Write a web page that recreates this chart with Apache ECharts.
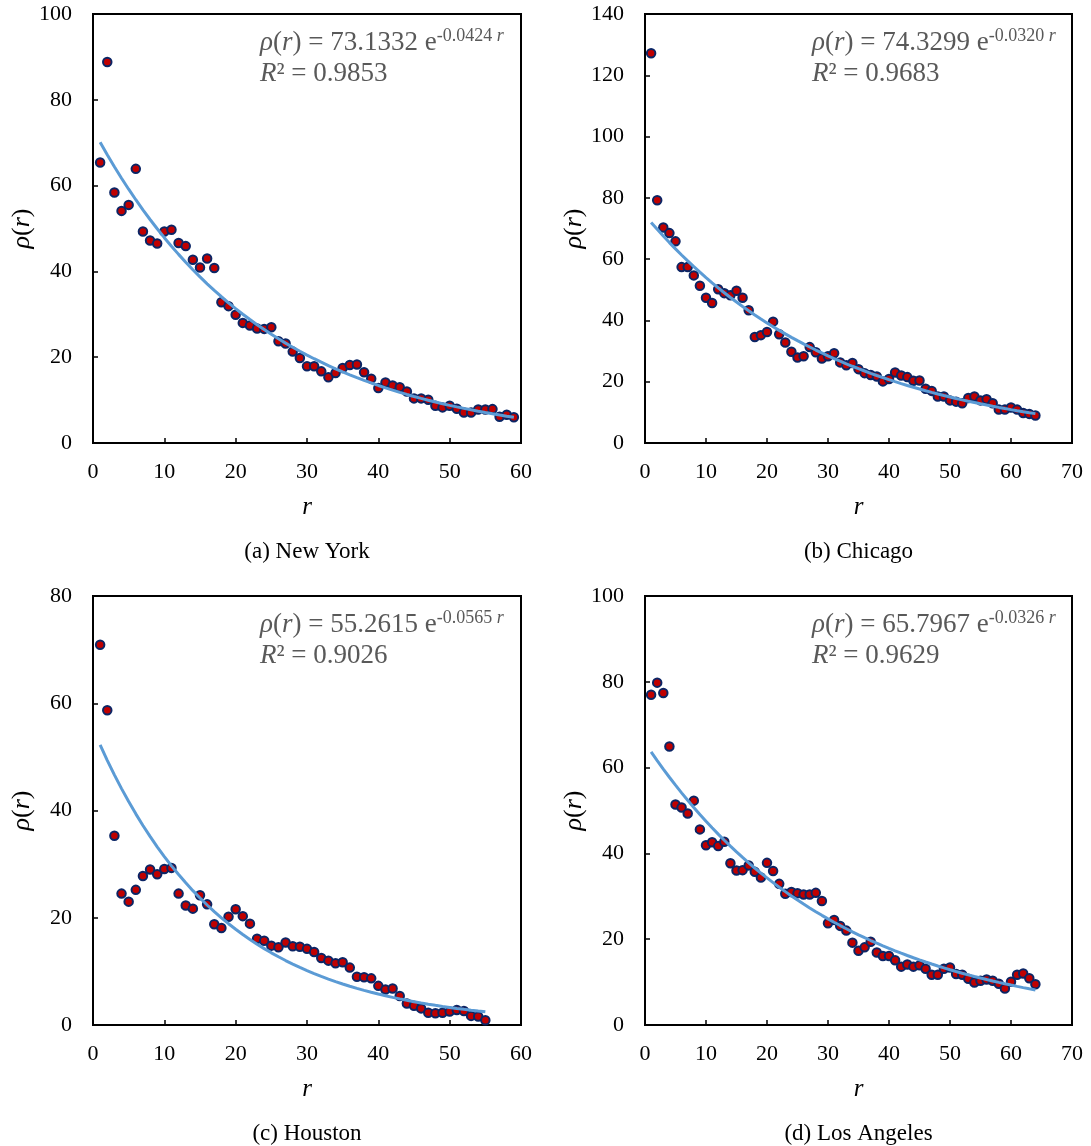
<!DOCTYPE html>
<html>
<head>
<meta charset="utf-8">
<script src="https://cdn.jsdelivr.net/npm/echarts@6/dist/echarts.min.js"></script>
<style>
  html, body { margin: 0; padding: 0; background: #fff; }
  #chart { width: 1091px; height: 1146px; }
</style>
</head>
<body>
<div id="chart"></div>
<script>
// panel captions
const captions = ['(a) New York', '(b) Chicago', '(c) Houston', '(d) Los Angeles']

// rho(r), r = 1, 2, 3 ...
const nyRho = [65.4, 88.8, 58.4, 54.1, 55.5, 63.9, 49.3, 47.2, 46.5, 49.3,
  49.7, 46.6, 45.9, 42.7, 40.9, 43.0, 40.8, 32.8, 31.9, 29.9,
  28.0, 27.4, 26.7, 26.6, 27.0, 23.7, 23.2, 21.3, 19.8, 17.9,
  17.9, 16.7, 15.3, 16.3, 17.5, 18.2, 18.3, 16.5, 15.0, 12.8,
  14.1, 13.4, 13.0, 12.0, 10.4, 10.4, 10.1, 8.7, 8.3, 8.7,
  8.0, 7.1, 7.1, 7.8, 7.8, 7.9, 6.1, 6.6, 6.0]
const chiRho = [127.2, 79.2, 70.3, 68.5, 65.8, 57.4, 57.4, 54.7, 51.3, 47.4,
  45.7, 50.2, 48.9, 48.2, 49.7, 47.4, 43.3, 34.6, 35.2, 36.2,
  39.6, 35.5, 32.8, 29.8, 27.9, 28.3, 31.3, 29.6, 27.6, 28.3,
  29.3, 26.3, 25.4, 26.1, 24.1, 22.8, 22.2, 21.7, 20.1, 20.9,
  23.0, 22.0, 21.5, 20.3, 20.4, 17.7, 17.0, 15.2, 15.2, 13.9,
  13.5, 13.0, 14.7, 15.2, 13.9, 14.3, 13.0, 10.9, 10.9, 11.6,
  10.9, 9.8, 9.5, 9.0]
const houRho = [70.9, 58.7, 35.3, 24.5, 23.0, 25.2, 27.8, 29.0, 28.1, 29.1,
  29.3, 24.5, 22.3, 21.7, 24.2, 22.5, 18.8, 18.1, 20.2, 21.6,
  20.3, 18.9, 16.1, 15.7, 14.8, 14.5, 15.4, 14.7, 14.6, 14.2,
  13.6, 12.5, 12.0, 11.5, 11.7, 10.7, 9.0, 8.9, 8.7, 7.3,
  6.6, 6.8, 5.4, 4.0, 3.6, 3.1, 2.3, 2.2, 2.3, 2.5,
  2.8, 2.6, 1.7, 1.6, 0.9]
const laRho = [77.0, 79.8, 77.4, 64.9, 51.4, 50.7, 49.3, 52.3, 45.6, 41.9,
  42.6, 41.7, 42.7, 37.7, 36.0, 36.1, 37.2, 35.7, 34.4, 37.8,
  35.9, 32.9, 30.6, 31.0, 30.7, 30.4, 30.4, 30.8, 28.9, 23.7,
  24.5, 23.1, 22.0, 19.2, 17.3, 18.1, 19.4, 16.9, 16.1, 16.1,
  15.1, 13.6, 14.1, 13.6, 13.9, 13.1, 11.7, 11.7, 13.1, 13.4,
  11.9, 11.7, 10.8, 9.9, 10.3, 10.6, 10.3, 9.6, 8.5, 10.1,
  11.7, 12.0, 10.9, 9.5]

// trendline coefficients as printed on the chart: rho = A e^(-b r)
const fitA = [73.1332, 74.3299, 55.2615, 65.7967]
const fitB = [0.0424, 0.0320, 0.0565, 0.0326]
const r2 = ['0.9853', '0.9683', '0.9026', '0.9629']

// axis ranges
const xMax = [60, 70, 60, 70]
const yMax = [100, 140, 80, 100]

const allRho = [nyRho, chiRho, houRho, laRho]

const font = 'Liberation Serif'
const boxes = [
  { left: 93, top: 14, width: 428, height: 429 },
  { left: 645, top: 14, width: 427, height: 429 },
  { left: 93, top: 596, width: 428, height: 429 },
  { left: 645, top: 596, width: 427, height: 429 }
]

const grid = []
const xAxis = []
const yAxis = []
const series = []
const graphic = []

boxes.forEach((b, i) => {
  grid.push({
    left: b.left,
    top: b.top,
    width: b.width,
    height: b.height,
    show: true,
    borderColor: '#000',
    borderWidth: 2,
    containLabel: false
  })
  xAxis.push({
    type: 'value',
    gridIndex: i,
    min: 0,
    max: xMax[i],
    interval: 10,
    name: 'r',
    nameLocation: 'middle',
    nameGap: 52,
    nameTextStyle: { fontFamily: font, fontSize: 25, fontStyle: 'italic', color: '#000' },
    axisLine: { lineStyle: { color: '#000', width: 2 } },
    axisTick: { inside: true, length: 5, lineStyle: { color: '#000', width: 1.5 } },
    axisLabel: { color: '#000', fontFamily: font, fontSize: 22, margin: 18 },
    splitLine: { show: false }
  })
  yAxis.push({
    type: 'value',
    gridIndex: i,
    min: 0,
    max: yMax[i],
    interval: 20,
    name: '{i|ρ}({i|r})',
    nameLocation: 'middle',
    nameRotate: 90,
    nameGap: 58,
    nameTextStyle: {
      fontFamily: font,
      fontSize: 26,
      color: '#000',
      rich: { i: { fontFamily: font, fontSize: 26, fontStyle: 'italic', color: '#000' } }
    },
    axisLine: { lineStyle: { color: '#000', width: 2 } },
    axisTick: { inside: true, length: 5, lineStyle: { color: '#000', width: 1.5 } },
    axisLabel: { color: '#000', fontFamily: font, fontSize: 22, margin: 21 },
    splitLine: { show: false }
  })

  const rho = allRho[i]
  series.push({
    type: 'scatter',
    xAxisIndex: i,
    yAxisIndex: i,
    data: rho.map((v, k) => [k + 1, v]),
    symbol: 'circle',
    symbolSize: 8.5,
    itemStyle: { color: '#C00000', borderColor: '#0B2565', borderWidth: 2, opacity: 1 },
    z: 2
  })
  series.push({
    type: 'line',
    xAxisIndex: i,
    yAxisIndex: i,
    data: rho.map((v, k) => [k + 1, fitA[i] * Math.exp(-fitB[i] * (k + 1))]),
    showSymbol: false,
    smooth: false,
    silent: true,
    lineStyle: { color: '#5B9BD5', width: 3 },
    z: 3
  })

  // equation box
  graphic.push({
    type: 'text',
    left: b.left + 167,
    top: b.top + 13,
    z: 10,
    style: {
      text: '{i|ρ}({i|r}) = ' + fitA[i].toFixed(4) + ' e{sup|-' + fitB[i].toFixed(4) + ' }{supi|r}\n{i|R}² = ' + r2[i],
      fontFamily: font,
      fontSize: 27,
      lineHeight: 31,
      fill: '#595959',
      rich: {
        i: { fontFamily: font, fontSize: 27, fontStyle: 'italic', lineHeight: 31, fill: '#595959' },
        sup: { fontFamily: font, fontSize: 18, lineHeight: 18, verticalAlign: 'top', fill: '#595959' },
        supi: { fontFamily: font, fontSize: 18, fontStyle: 'italic', lineHeight: 18, verticalAlign: 'top', fill: '#595959' }
      }
    }
  })
  // caption under the panel
  graphic.push({
    type: 'text',
    x: b.left + b.width / 2,
    y: b.top + 538,
    style: {
      text: captions[i],
      fontFamily: font,
      fontSize: 23,
      fill: '#000',
      align: 'center',
      verticalAlign: 'middle'
    }
  })
})

const chart = echarts.init(document.getElementById('chart'))
chart.setOption({
  backgroundColor: '#fff',
  animation: false,
  grid,
  xAxis,
  yAxis,
  series,
  graphic
})
</script>
</body>
</html>
